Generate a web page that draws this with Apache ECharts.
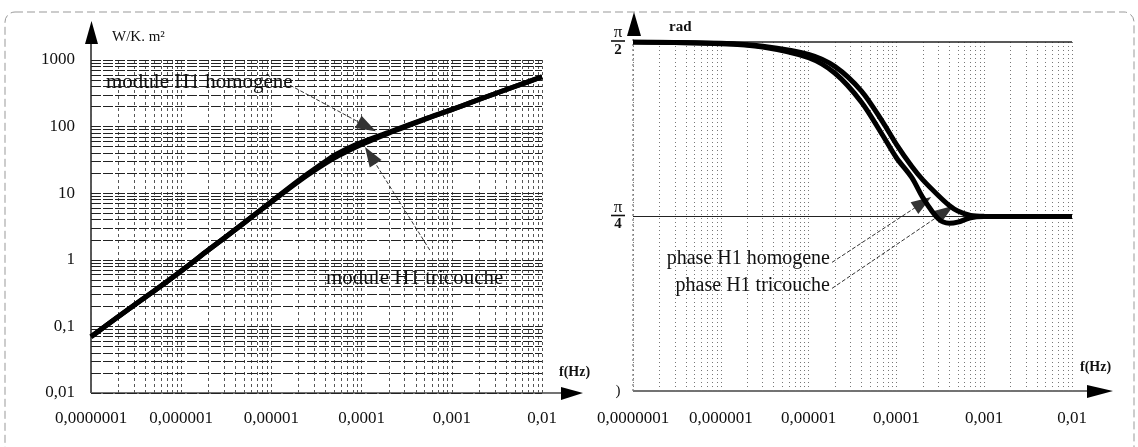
<!DOCTYPE html>
<html><head><meta charset="utf-8">
<script src="https://cdn.jsdelivr.net/npm/echarts@6/dist/echarts.min.js"></script>
<style>html,body{margin:0;padding:0;background:#fff}#c{width:1138px;height:447px}</style>
</head><body><div id="c"></div>
<script>
// ---- data ----
const freqTickLabels = ['0,0000001','0,000001','0,00001','0,0001','0,001','0,01'];
const moduleTickLabels = ['0,01','0,1','1','10','100','1000'];
const phaseTickLabels = [')', '{n|π}\n{bar|}\n{d|4}', '{n|π}\n{bar|}\n{d|2}'];
const phaseTickValues = [0, Math.PI/4, Math.PI/2];

const moduleFreq = [1e-7,2e-7,5e-7,1e-6,2e-6,5e-6,1e-5,2e-5,3e-5,5e-5,7e-5,1e-4,2e-4,5e-4,1e-3,2e-3,5e-3,1e-2];
const moduleHomogene = [0.07,0.14,0.34,0.68,1.4,3.6,7.5,15.5,23,37,47,58,82,130,180,255,400,560];
const moduleTricouche = [0.07,0.14,0.34,0.68,1.4,3.6,7.4,15,22,34,43,54,80,128,180,255,400,560];

const phaseFreq = [1e-7,1e-6,3e-6,1e-5,2e-5,4e-5,7e-5,1e-4,1.5e-4,2e-4,3e-4,4e-4,5e-4,7e-4,1e-3,1e-2];
const phaseHomogene = [1.5708,1.565,1.552,1.515,1.46,1.35,1.21,1.11,1.01,0.95,0.88,0.835,0.81,0.79,0.786,0.785];
const phaseTricouche = [1.5708,1.563,1.548,1.50,1.43,1.30,1.15,1.05,0.96,0.87,0.775,0.755,0.76,0.78,0.785,0.785];

// ---- helpers ----
const SERIF = '"Liberation Serif","DejaVu Serif",serif';
function zipPts(xs, ys){ return xs.map((x,i)=>[x, ys[i]]); }
function logMinors(d0, d1){ const r=[]; for(let d=d0; d<d1; d++){ for(let m=1;m<=9;m++) r.push(m*Math.pow(10,d)); } r.push(Math.pow(10,d1)); return r; }
const xGridVals = logMinors(-7,-2);
const yGridVals = logMinors(-2,3);
function decIdx(v, base){ return Math.round(Math.log10(v)) - base; }
function vLines(vals, y0, y1, style){ return vals.map(v=>[{coord:[v,y0], lineStyle:style},{coord:[v,y1]}]); }
function hLines(vals, x0, x1, style){ return vals.map(v=>[{coord:[x0,v], lineStyle:style},{coord:[x1,v]}]); }

const chart = echarts.init(document.getElementById('c'));
const arrowLine = {type:'dashed', color:'#333', width:1};

const option = {
  animation:false,
  backgroundColor:'#fff',
  grid:[
    {left:91, right:596, top:60, bottom:54},
    {left:633, right:66, top:42, bottom:56}
  ],
  xAxis:[
    {type:'log', logBase:10, gridIndex:0, min:1e-7, max:1e-2,
     axisLine:{show:false}, axisTick:{show:false}, splitLine:{show:false},
     axisLabel:{margin:17, fontFamily:SERIF, fontSize:17, color:'#111',
       formatter:v=>freqTickLabels[decIdx(v,-7)] ?? ''}},
    {type:'log', logBase:10, gridIndex:1, min:1e-7, max:1e-2,
     axisLine:{show:false}, axisTick:{show:false}, splitLine:{show:false},
     axisLabel:{margin:19, fontFamily:SERIF, fontSize:17, color:'#111',
       formatter:v=>freqTickLabels[decIdx(v,-7)] ?? ''}}
  ],
  yAxis:[
    {type:'log', logBase:10, gridIndex:0, min:0.01, max:1000,
     axisLine:{show:false}, axisTick:{show:false}, splitLine:{show:false},
     axisLabel:{margin:16, fontFamily:SERIF, fontSize:17, color:'#111',
       formatter:v=>moduleTickLabels[decIdx(v,-2)] ?? ''}},
    {type:'value', gridIndex:1, min:0, max:Math.PI/2, interval:Math.PI/4,
     axisLine:{show:false}, axisTick:{show:false}, splitLine:{show:false},
     axisLabel:{margin:15, fontFamily:SERIF, fontSize:15, color:'#111', align:'center',
       formatter:v=>{ const i = phaseTickValues.findIndex(t=>Math.abs(t-v)<1e-6); return i<0?'':phaseTickLabels[i]; },
       rich:{
         n:{fontFamily:SERIF, fontSize:17, lineHeight:12, align:'center', color:'#111'},
         bar:{width:14, height:1.6, backgroundColor:'#111', lineHeight:4},
         d:{fontFamily:SERIF, fontSize:15, lineHeight:14, align:'center', color:'#111', fontWeight:'bold'}
       }}}
  ],
  series:[
    {name:'module H1 homogène', type:'line', xAxisIndex:0, yAxisIndex:0, data:zipPts(moduleFreq,moduleHomogene),
     smooth:0.3, showSymbol:false, lineStyle:{color:'#000', width:5}, z:5,
     markLine:{silent:true, symbol:'none', label:{show:false}, animation:false,
       data:[
         ...vLines(xGridVals, 0.01, 1000, {color:'#555', width:1, type:[3,3]}),
         ...hLines(yGridVals, 1e-7, 1e-2, {color:'#222', width:1, type:[10,2]})
       ]}},
    {name:'module H1 tricouche', type:'line', xAxisIndex:0, yAxisIndex:0, data:zipPts(moduleFreq,moduleTricouche),
     smooth:0.3, showSymbol:false, lineStyle:{color:'#000', width:5}, z:5,
     markLine:{silent:true, symbol:['none','triangle'], symbolSize:[14,20], label:{show:false}, animation:false,
       lineStyle:arrowLine,
       data:[
         [{coord:[1.6e-5,420]},{coord:[1.15e-4,100]}],
         [{coord:[5.7e-4,1.4]},{coord:[1.25e-4,37]}]
       ]}},
    {name:'phase H1 homogene', type:'line', xAxisIndex:1, yAxisIndex:1, data:zipPts(phaseFreq,phaseHomogene),
     smooth:0.3, showSymbol:false, lineStyle:{color:'#000', width:5}, z:5,
     markLine:{silent:true, symbol:'none', label:{show:false}, animation:false,
       data:[
         ...vLines(xGridVals, 0, Math.PI/2, {color:'#777', width:1, type:[1,3]}),
         [{coord:[1e-7,Math.PI/4], lineStyle:{color:'#222', width:1, type:'solid'}},{coord:[1e-2,Math.PI/4]}],
         [{coord:[1e-7,Math.PI/2], lineStyle:{color:'#222', width:1.5, type:'solid'}},{coord:[1e-2,Math.PI/2]}]
       ]}},
    {name:'phase H1 tricouche', type:'line', xAxisIndex:1, yAxisIndex:1, data:zipPts(phaseFreq,phaseTricouche),
     smooth:0.3, showSymbol:false, lineStyle:{color:'#000', width:5}, z:5,
     markLine:{silent:true, symbol:['none','triangle'], symbolSize:[14,20], label:{show:false}, animation:false,
       lineStyle:arrowLine,
       data:[
         [{coord:[1.85e-5,0.579]},{coord:[2.0e-4,0.848]}],
         [{coord:[1.85e-5,0.462]},{coord:[3.6e-4,0.808]}]
       ]}}
  ],
  graphic:[
    // page frame
    {type:'rect', shape:{x:5, y:12, width:1129, height:520, r:10}, style:{fill:null, stroke:'#999', lineWidth:1, lineDash:[8,4]}, silent:true},
    // left axes
    {type:'line', shape:{x1:91, y1:393, x2:91, y2:32}, style:{stroke:'#222', lineWidth:1.5}},
    {type:'polygon', shape:{points:[[85,44],[98,44],[91.5,21]]}, style:{fill:'#000'}},
    {type:'line', shape:{x1:91, y1:393, x2:566, y2:393}, style:{stroke:'#444', lineWidth:1.5}},
    {type:'polygon', shape:{points:[[561,387],[561,400],[583,393]]}, style:{fill:'#000'}},
    // right axes
    {type:'line', shape:{x1:633, y1:391, x2:633, y2:30}, style:{stroke:'#555', lineWidth:1, lineDash:[2,3]}},
    {type:'polygon', shape:{points:[[627,36],[641,36],[634,12]]}, style:{fill:'#000'}},
    {type:'line', shape:{x1:633, y1:391, x2:1090, y2:391}, style:{stroke:'#444', lineWidth:1.5}},
    {type:'polygon', shape:{points:[[1087,385],[1087,398],[1113,391]]}, style:{fill:'#000'}},
    // axis titles
    {type:'text', x:112, y:37, style:{text:'W/K. m²', font:'15px '+SERIF, fill:'#111', verticalAlign:'middle'}},
    {type:'text', x:559, y:372, style:{text:'f(Hz)', font:'bold 14px '+SERIF, fill:'#111', verticalAlign:'middle'}},
    {type:'text', x:669, y:27, style:{text:'rad', font:'bold 15px '+SERIF, fill:'#111', verticalAlign:'middle'}},
    {type:'text', x:1080, y:367, style:{text:'f(Hz)', font:'bold 14px '+SERIF, fill:'#111', verticalAlign:'middle'}},
    // annotations
    {type:'text', x:106, y:82, z:10, style:{text:'module H1 homogène', font:'21px '+SERIF, fill:'#111', verticalAlign:'middle'}},
    {type:'text', x:326, y:278, z:10, style:{text:'module H1 tricouche', font:'21px '+SERIF, fill:'#111', verticalAlign:'middle'}},
    {type:'text', x:830, y:259, z:10, style:{text:'phase H1 homogene', font:'20px '+SERIF, fill:'#111', align:'right', verticalAlign:'middle'}},
    {type:'text', x:830, y:286, z:10, style:{text:'phase H1 tricouche', font:'20px '+SERIF, fill:'#111', align:'right', verticalAlign:'middle'}}
  ]
};
chart.setOption(option);
</script></body></html>
